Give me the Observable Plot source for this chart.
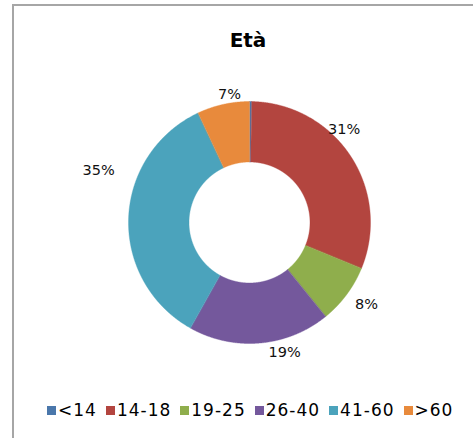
<!DOCTYPE html>
<html>
<head>
<meta charset="utf-8">
<script src="https://cdn.jsdelivr.net/npm/d3@7"></script>
<script src="https://cdn.jsdelivr.net/npm/@observablehq/plot@0.6"></script>
<style>
  body { margin: 0; background: #fff; width: 473px; height: 438px; overflow: hidden; position: relative; font-family: "DejaVu Sans", sans-serif; }
  #frame { position: absolute; left: 12px; top: 4px; width: 480px; height: 460px; border: 2px solid #a6a6a6; box-sizing: border-box; }
  #title { position: absolute; left: 0; top: 30px; width: 496px; text-align: center; font: bold 20px/20px "DejaVu Sans", sans-serif; color: #000; }
  #chart { position: absolute; left: 0; top: 60px; }
  #legend { position: absolute; left: 47px; top: 401px; }
  #legend .leg-swatches { font-family: "DejaVu Sans", sans-serif !important; font-size: 17px !important; line-height: 18px !important; letter-spacing: 1px; color: #000 !important; margin: 0 !important; min-height: 0 !important; }
  #legend .leg-swatch { margin-right: 9px !important; }
  #legend .leg-swatch > svg { margin-right: 2px !important; }
</style>
</head>
<body>
<div id="frame"></div>
<div id="title">Età</div>
<div id="chart"></div>
<div id="legend"></div>
<script>
// ---- data ----
const categories = ["<14", "14-18", "19-25", "26-40", "41-60", ">60"];
const values = [0.3, 31, 8, 19, 35, 7];
const labels = ["", "31%", "8%", "19%", "35%", "7%"];
const colors = ["#4A77AB", "#B3453F", "#8FAE4C", "#74589C", "#4BA3BC", "#E88A3C"];
// label placement tweaks (degrees from slice middle, radius in outer-radius units)
const labelNudge = [0, -11.4, -1.7, -10.3, 17, 3.7];
const labelRadius = [0, 1.10, 1.18, 1.11, 1.32, 1.07];
const innerRatio = 0.5;

// ---- geometry from data ----
const arcs = d3.pie().sort(null).value((d, i) => values[i])(categories);
const slicePts = [];
const labelPts = [];
arcs.forEach((a, i) => {
  const n = Math.max(2, Math.ceil((a.endAngle - a.startAngle) / 0.004) + 1);
  const ang = k => a.startAngle + (a.endAngle - a.startAngle) * k / (n - 1);
  for (let k = 0; k < n; k++) { const t = ang(k); slicePts.push({cat: categories[i], x: Math.sin(t), y: Math.cos(t)}); }
  for (let k = n - 1; k >= 0; k--) { const t = ang(k); slicePts.push({cat: categories[i], x: innerRatio * Math.sin(t), y: innerRatio * Math.cos(t)}); }
  if (labels[i]) {
    const m = (a.startAngle + a.endAngle) / 2 + labelNudge[i] * Math.PI / 180;
    labelPts.push({text: labels[i], x: labelRadius[i] * Math.sin(m), y: labelRadius[i] * Math.cos(m)});
  }
});

const chart = Plot.plot({
  width: 473,
  height: 330,
  margin: 0,
  x: {domain: [-1, 1], range: [128, 370], axis: null},
  y: {domain: [-1, 1], range: [283, 41], axis: null},
  color: {domain: categories, range: colors},
  marks: [
    Plot.line(slicePts, {x: "x", y: "y", z: "cat", fill: "cat", stroke: "cat", strokeWidth: 0.4, curve: "linear-closed"}),
    Plot.text(labelPts, {x: "x", y: "y", text: "text", fontSize: 14.5, fontFamily: "DejaVu Sans", fill: "#111"})
  ]
});
document.getElementById("chart").appendChild(chart);

const legend = Plot.legend({
  color: {type: "ordinal", domain: categories, range: colors},
  swatchSize: 9,
  className: "leg"
});
document.getElementById("legend").appendChild(legend);
</script>
</body>
</html>
